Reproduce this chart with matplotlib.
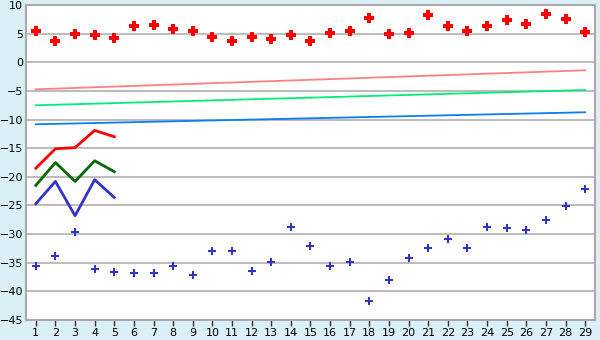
import matplotlib
matplotlib.use("Agg")
import matplotlib.pyplot as plt

categories = list(range(1, 30))
red_points = [5.5, 3.7, 5.0, 4.7, 4.2, 6.3, 6.5, 5.8, 5.4, 4.4, 3.7, 4.4, 4.0, 4.7, 3.8,
              5.1, 5.4, 7.7, 4.9, 5.1, 8.2, 6.3, 5.5, 6.3, 7.3, 6.6, 8.4, 7.5, 5.2]
blue_points = [-35.6, -33.9, -29.7, -36.1, -36.7, -36.8, -36.8, -35.6, -37.2, -33.0,
               -33.0, -36.5, -34.9, -28.8, -32.1, -35.6, -34.9, -41.6, -38.1, -34.2,
               -32.5, -30.9, -32.5, -28.8, -29.0, -29.2, -27.6, -25.1, -22.2]
short_x = [1, 2, 3, 4, 5]
red_line = [-18.5, -15.1, -14.9, -11.9, -13.0]
green_line = [-21.5, -17.5, -20.8, -17.2, -19.1]
blue_line = [-24.7, -20.8, -26.8, -20.5, -23.6]
trend_x = [1, 29]
pink_trend = [-4.72, -1.40]
lgreen_trend = [-7.51, -4.84]
lblue_trend = [-10.83, -8.73]
y_ticks = [10, 5, 0, -5, -10, -15, -20, -25, -30, -35, -40, -45]

fig = plt.figure(figsize=(6, 3.4), dpi=100, facecolor='#daeff6')
ax = fig.add_axes([26/600, 20/340, 569/600, 315/340])
ax.set_facecolor('white')

ax.set_xlim(0.5, 29.5)
ax.set_ylim(-45, 10)
ax.set_yticks(y_ticks)
ax.set_xticks(categories)
ax.set_xticklabels([str(c) for c in categories])
ax.yaxis.grid(True, color='#aaaaaa', linewidth=1.1)
ax.set_axisbelow(True)
for s in ax.spines.values():
    s.set_color('#aaaaaa')
    s.set_linewidth(1.5)
ax.tick_params(axis='x', length=4, width=1, color='#333333', labelsize=8, pad=2)
ax.tick_params(axis='y', length=0, labelsize=8, pad=2)

ax.plot(trend_x, pink_trend, color='#ff8080', lw=1.3)
ax.plot(trend_x, lgreen_trend, color='#00ee77', lw=1.3)
ax.plot(trend_x, lblue_trend, color='#0a7ff0', lw=1.3)

ax.plot(short_x, red_line, color='#ff0000', lw=2)
ax.plot(short_x, green_line, color='#006600', lw=2)
ax.plot(short_x, blue_line, color='#3333cc', lw=2)

ax.plot(categories, red_points, linestyle='none', marker='P', color='#ff0000', ms=6.5, mew=0)
ax.plot(categories, blue_points, linestyle='none', marker='P', color='#3333cc', ms=5.5, mew=0)

fig.savefig('out.png', dpi=100, facecolor=fig.get_facecolor())
